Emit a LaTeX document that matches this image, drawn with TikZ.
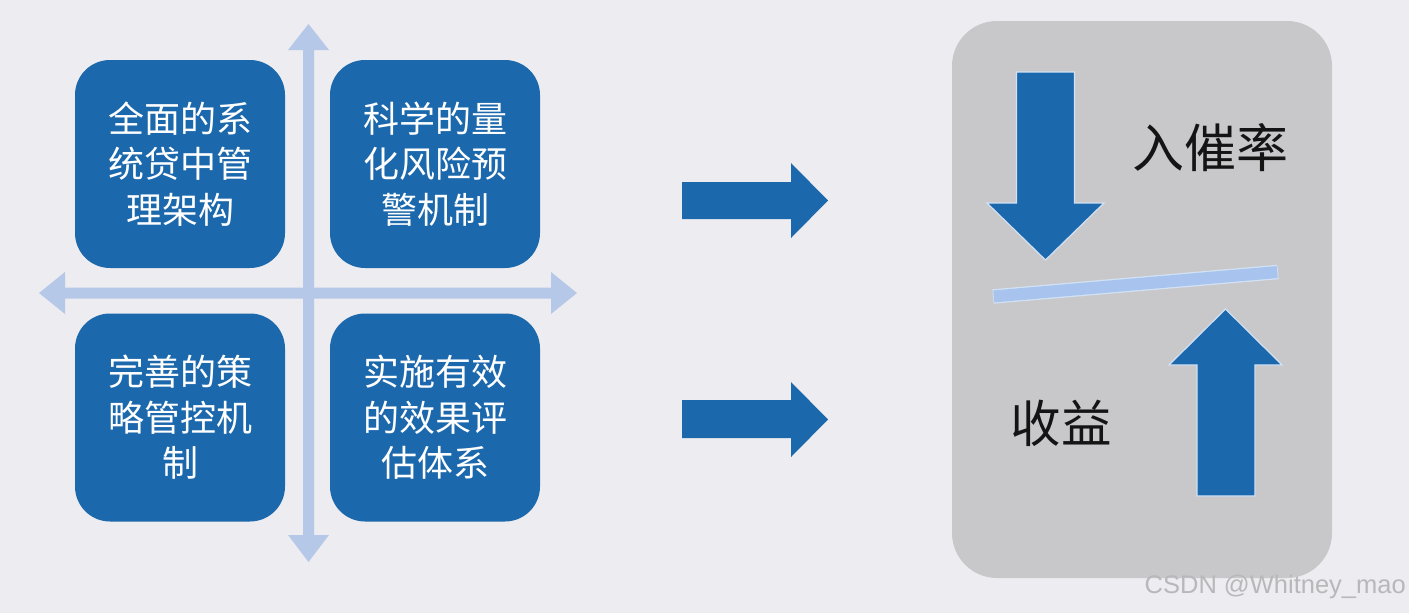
\documentclass[tikz,border=0pt]{standalone}
\usepackage{fontspec}
\usetikzlibrary{calc}
\setmainfont{Liberation Sans}
\newfontfamily\cjk{Noto Sans CJK SC}
\definecolor{bg}{RGB}{237,236,240}
\definecolor{boxblue}{RGB}{28,104,172}
\definecolor{crossblue}{RGB}{182,200,232}
\definecolor{panelgray}{RGB}{200,200,202}
\definecolor{barblue}{RGB}{168,196,238}
\definecolor{edgeblue}{RGB}{210,226,244}
\definecolor{wmgray}{RGB}{184,184,187}
\definecolor{ink}{RGB}{20,20,20}
\tikzset{
  quad/.style={fill=boxblue, rounded corners=35pt, minimum width=210pt, minimum height=208pt,
    inner sep=0pt, text=white, font=\cjk\fontsize{36}{45.5}\selectfont, align=center},
  crossarrow/.style={fill=crossblue},
  blockarrow/.style={fill=boxblue},
  panelarrow/.style={fill=boxblue, draw=edgeblue, line width=1.2pt},
  lbl/.style={text=ink, inner sep=0pt},
  wm/.style={text=wmgray, inner sep=0pt, font=\fontsize{25.5}{30}\selectfont}
}
\begin{document}
\begin{tikzpicture}[x=1pt,y=-1pt]
\fill[bg] (0,0) rectangle (1409,613);
\useasboundingbox (0,0) rectangle (1409,613);

% cross double arrows
\fill[crossblue] (303,50) -- (288,50) -- (308.5,24) -- (329,50) -- (314,50) -- (314,535)
  -- (329,535) -- (308.5,562) -- (288,535) -- (303,535) -- cycle;
\fill[crossblue] (65,287.5) -- (65,272) -- (39,293) -- (65,314) -- (65,298.5) -- (551,298.5)
  -- (551,314) -- (577,293) -- (551,272) -- (551,287.5) -- cycle;

% four boxes
\node[quad] (tl) at (180,164) {全面的系\\统贷中管\\理架构};
\node[quad] (tr) at (435,164) {科学的量\\化风险预\\警机制};
\node[quad] (bl) at (180,417.5) {完善的策\\略管控机\\制};
\node[quad] (br) at (435,417.5) {实施有效\\的效果评\\估体系};

% right arrows
\fill[blockarrow] (682,182) -- (791,182) -- (791,163) -- (828,200.5) -- (791,238) -- (791,219) -- (682,219) -- cycle;
\fill[blockarrow] (682,400) -- (791,400) -- (791,382) -- (828,419.5) -- (791,457) -- (791,438) -- (682,438) -- cycle;

% right panel
\fill[panelgray, rounded corners=45pt] (952,21) rectangle (1332,578);

% down arrow
\filldraw[panelarrow] (1016.5,72) -- (1074.5,72) -- (1074.5,203) -- (1104,203) -- (1045.5,260)
  -- (987,203) -- (1016.5,203) -- cycle;
% up arrow
\filldraw[panelarrow] (1197,496) -- (1255,496) -- (1255,365) -- (1282,365) -- (1225.5,309)
  -- (1169,365) -- (1197,365) -- cycle;

% tilted bar
\coordinate (barL) at (993,296.5);
\coordinate (barR) at (1278,272);
\draw[edgeblue, line width=14.5pt] (barL) -- (barR);
\draw[barblue, line width=12pt] ($(barL)!0.8pt!(barR)$) -- ($(barR)!0.8pt!(barL)$);

\node[lbl, font=\cjk\fontsize{52}{60}\selectfont] (rate) at (1210,148) {入催率};
\node[lbl, font=\cjk\fontsize{50.5}{60}\selectfont] (gain) at (1061,423) {收益};

% watermark
\node[wm, anchor=east] (mark) at (1406,587) {CSDN @Whitney\_mao};
\end{tikzpicture}
\end{document}
